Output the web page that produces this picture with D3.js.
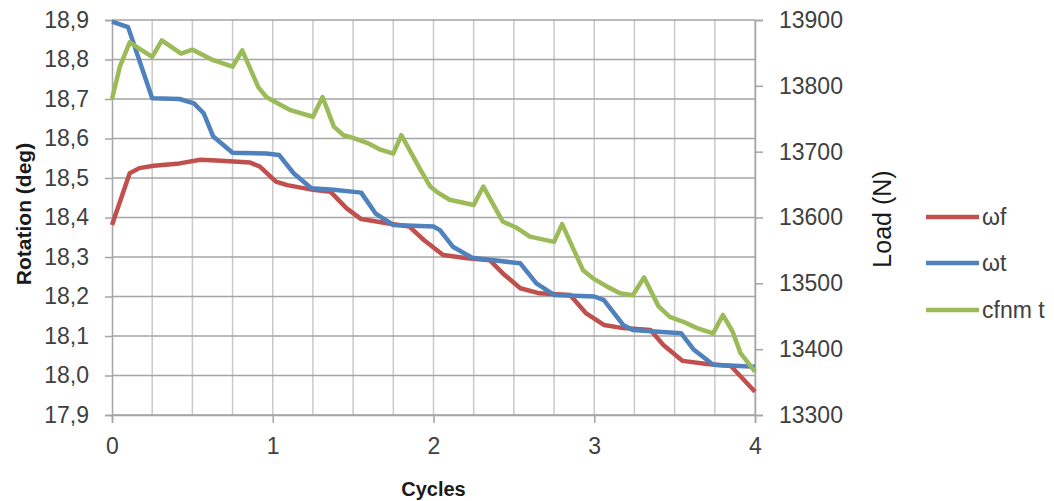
<!DOCTYPE html>
<html>
<head>
<meta charset="utf-8">
<script src="https://cdn.jsdelivr.net/npm/d3@7"></script>
<style>
  html, body { margin: 0; padding: 0; background: #fff; }
  svg { display: block; font-family: "Liberation Sans", Arial, sans-serif; }
</style>
</head>
<body>
<svg id="chart" width="1054" height="501"></svg>
<script>
// ---- data ----
const cyclesF = [0, 0.11, 0.17, 0.26, 0.42, 0.55, 0.65, 0.86, 0.92, 1.02, 1.09, 1.25, 1.36, 1.46, 1.55, 1.73, 1.85, 1.94, 2.06, 2.21, 2.35, 2.43, 2.54, 2.66, 2.85, 2.95, 3.06, 3.18, 3.35, 3.43, 3.55, 3.70, 3.85, 4.0];
const omegaF  = [18.381, 18.512, 18.525, 18.531, 18.537, 18.546, 18.544, 18.539, 18.529, 18.491, 18.482, 18.47, 18.465, 18.423, 18.396, 18.384, 18.377, 18.343, 18.305, 18.297, 18.292, 18.259, 18.221, 18.208, 18.204, 18.157, 18.128, 18.12, 18.115, 18.077, 18.037, 18.029, 18.024, 17.959];

const cyclesT = [0, 0.10, 0.25, 0.42, 0.51, 0.57, 0.63, 0.75, 0.96, 1.04, 1.13, 1.24, 1.38, 1.55, 1.64, 1.75, 2.0, 2.04, 2.12, 2.24, 2.54, 2.64, 2.75, 3.0, 3.06, 3.18, 3.24, 3.54, 3.62, 3.74, 4.0];
const omegaT  = [18.896, 18.882, 18.702, 18.70, 18.689, 18.664, 18.605, 18.564, 18.562, 18.558, 18.512, 18.474, 18.47, 18.463, 18.41, 18.381, 18.377, 18.368, 18.326, 18.298, 18.284, 18.233, 18.204, 18.2, 18.191, 18.128, 18.115, 18.107, 18.065, 18.027, 18.022];

const cyclesL = [0, 0.05, 0.11, 0.25, 0.31, 0.43, 0.5, 0.63, 0.75, 0.81, 0.91, 0.96, 1.05, 1.11, 1.25, 1.31, 1.38, 1.44, 1.5, 1.59, 1.67, 1.75, 1.80, 1.92, 1.98, 2.02, 2.1, 2.25, 2.31, 2.43, 2.52, 2.6, 2.75, 2.80, 2.93, 2.99, 3.08, 3.16, 3.24, 3.31, 3.40, 3.47, 3.55, 3.64, 3.74, 3.80, 3.86, 3.91, 4.0];
const loadT   = [13780, 13830, 13866, 13844, 13869, 13849, 13855, 13839, 13829, 13854, 13798, 13783, 13771, 13763, 13753, 13783, 13738, 13725, 13721, 13713, 13703, 13697, 13725, 13672, 13647, 13639, 13627, 13619, 13647, 13594, 13584, 13571, 13563, 13590, 13520, 13508, 13495, 13485, 13482, 13509, 13465, 13449, 13442, 13432, 13424, 13452, 13427, 13394, 13366];

const xTicks = [0, 1, 2, 3, 4];
const xGrid = [0.25, 0.5, 0.75, 1, 1.25, 1.5, 1.75, 2, 2.25, 2.5, 2.75, 3, 3.25, 3.5, 3.75, 4];
const leftTicks = [17.9, 18.0, 18.1, 18.2, 18.3, 18.4, 18.5, 18.6, 18.7, 18.8, 18.9];
const rightTicks = [13300, 13400, 13500, 13600, 13700, 13800, 13900];
const seriesNames = ["ωf", "ωt", "cfnm t"];
const seriesColors = ["#C0504D", "#4F81BD", "#9BBB59"];

// ---- layout ----
const L = 112, R = 755, T = 20, B = 415;
const svg = d3.select("#chart");
const x = d3.scaleLinear().domain([0, 4]).range([L, R]);
const yL = d3.scaleLinear().domain([17.9, 18.9]).range([B, T]);
const yR = d3.scaleLinear().domain([13300, 13900]).range([B, T]);

// gridlines
svg.append("g").selectAll("line").data(xGrid).join("line")
  .attr("x1", d => x(d)).attr("x2", d => x(d))
  .attr("y1", T).attr("y2", B)
  .attr("stroke", "#C9C9C9").attr("stroke-width", 1.5);
svg.append("g").selectAll("line").data(leftTicks).join("line")
  .attr("x1", L).attr("x2", R)
  .attr("y1", d => yL(d)).attr("y2", d => yL(d))
  .attr("stroke", "#A5A5A5").attr("stroke-width", 1.5);

const tickFont = 23;
// left axis
const fmtL = d => d3.format(".1f")(d).replace(".", ",");
const axL = svg.append("g").attr("transform", `translate(${L},0)`)
  .call(d3.axisLeft(yL).tickValues(leftTicks).tickFormat(fmtL).tickSize(7).tickPadding(16));
// right axis
const axR = svg.append("g").attr("transform", `translate(${R},0)`)
  .call(d3.axisRight(yR).tickValues(rightTicks).tickFormat(d3.format("d")).tickSize(8).tickPadding(16));
// bottom axis
const axB = svg.append("g").attr("transform", `translate(0,${B})`)
  .call(d3.axisBottom(x).tickValues(xTicks).tickFormat(d3.format("d")).tickSize(8).tickPadding(14));

[axL, axR, axB].forEach(a => {
  a.select(".domain").attr("stroke", "#A5A5A5").attr("stroke-width", 1.5);
  a.selectAll(".tick line").attr("stroke", "#A5A5A5").attr("stroke-width", 1.5);
  a.selectAll(".tick text").attr("fill", "#404040").style("font-size", tickFont + "px")
    .style("font-family", '"Liberation Sans", Arial, sans-serif');
});
axB.selectAll(".tick text").attr("dy", "0.75em");

// lines
const mk = (xs, ys) => xs.map((c, i) => ({c, v: ys[i]}));
const lineL = d3.line().x(d => x(d.c)).y(d => yL(d.v));
const lineR = d3.line().x(d => x(d.c)).y(d => yR(d.v));
const sw = 4.5;
svg.append("path").datum(mk(cyclesF, omegaF)).attr("d", lineL)
  .attr("fill", "none").attr("stroke", seriesColors[0]).attr("stroke-width", sw).attr("stroke-linejoin", "round");
svg.append("path").datum(mk(cyclesT, omegaT)).attr("d", lineL)
  .attr("fill", "none").attr("stroke", seriesColors[1]).attr("stroke-width", sw).attr("stroke-linejoin", "round");
svg.append("path").datum(mk(cyclesL, loadT)).attr("d", lineR)
  .attr("fill", "none").attr("stroke", seriesColors[2]).attr("stroke-width", sw).attr("stroke-linejoin", "round");

// axis titles
svg.append("text").attr("transform", "translate(23,214) rotate(-90)")
  .attr("text-anchor", "middle").attr("dominant-baseline", "central")
  .style("font-size", "21px").style("font-weight", "bold").attr("fill", "#1a1a1a")
  .text("Rotation (deg)");
svg.append("text").attr("x", (L + R) / 2).attr("y", 489)
  .attr("text-anchor", "middle").attr("dominant-baseline", "central")
  .style("font-size", "20px").style("font-weight", "bold").attr("fill", "#1a1a1a")
  .text("Cycles");
svg.append("text").attr("transform", "translate(882,219) rotate(-90)")
  .attr("text-anchor", "middle").attr("dominant-baseline", "central")
  .style("font-size", "25px").attr("fill", "#1a1a1a")
  .text("Load (N)");

// legend
const legY = [217, 263, 310];
const leg = svg.append("g");
seriesNames.forEach((n, i) => {
  leg.append("line").attr("x1", 926).attr("x2", 979).attr("y1", legY[i]).attr("y2", legY[i])
    .attr("stroke", seriesColors[i]).attr("stroke-width", sw);
  leg.append("text").attr("x", 982).attr("y", legY[i]).attr("dominant-baseline", "central")
    .style("font-size", "23px").attr("fill", "#404040").text(n);
});
</script>
</body>
</html>
